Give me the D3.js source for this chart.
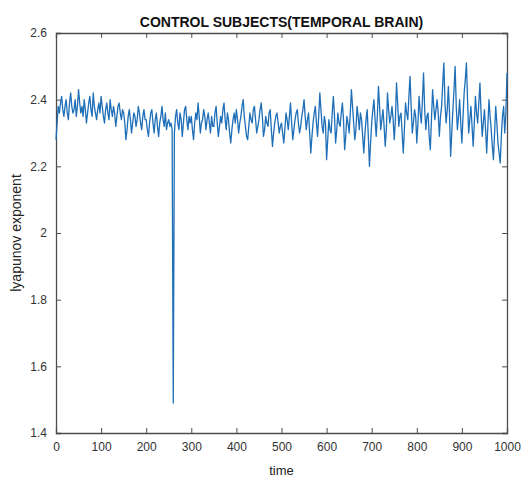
<!DOCTYPE html>
<html>
<head>
<meta charset="utf-8">
<script src="https://cdn.jsdelivr.net/npm/d3@7"></script>
<style>
  body { margin: 0; background: #fff; }
  text { font-family: "Liberation Sans", Arial, sans-serif; }
</style>
</head>
<body>
<div id="chart"></div>
<script>
let timeStep = 2.5;
let lyapunov = [
  2.28,2.33,2.38,2.36,2.39,2.41,2.37,2.35,2.38,2.40,2.36,2.34,2.39,2.42,2.38,2.36,2.37,2.40,2.35,2.38,
  2.43,2.39,2.36,2.38,2.35,2.40,2.37,2.33,2.36,2.39,2.41,2.37,2.35,2.42,2.38,2.36,2.34,2.37,2.39,2.36,
  2.41,2.38,2.35,2.33,2.37,2.39,2.36,2.34,2.40,2.37,2.35,2.38,2.36,2.32,2.35,2.38,2.39,2.36,2.34,2.37,
  2.36,2.33,2.28,2.31,2.35,2.37,2.34,2.30,2.33,2.36,2.35,2.32,2.34,2.38,2.36,2.33,2.31,2.35,2.37,2.34,
  2.34,2.31,2.29,2.33,2.36,2.37,2.33,2.30,2.34,2.36,2.32,2.29,2.33,2.35,2.38,2.34,2.32,2.36,2.31,2.33,
  2.34,2.32,2.33,2.31,1.49,2.30,2.35,2.37,2.33,2.31,2.36,2.34,2.29,2.33,2.37,2.38,2.34,2.31,2.35,2.33,
  2.35,2.31,2.28,2.33,2.36,2.34,2.39,2.35,2.30,2.33,2.34,2.37,2.35,2.31,2.34,2.36,2.33,2.30,2.35,2.32,
  2.32,2.36,2.38,2.33,2.29,2.32,2.35,2.33,2.37,2.39,2.34,2.31,2.36,2.34,2.30,2.27,2.31,2.34,2.36,2.33,
  2.37,2.34,2.30,2.33,2.35,2.38,2.40,2.35,2.32,2.29,2.28,2.32,2.36,2.34,2.33,2.37,2.38,2.34,2.30,2.32,
  2.34,2.37,2.39,2.35,2.29,2.31,2.35,2.33,2.32,2.36,2.37,2.31,2.26,2.30,2.33,2.35,2.36,2.33,2.30,2.32,
  2.33,2.30,2.27,2.31,2.36,2.34,2.31,2.35,2.39,2.33,2.28,2.31,2.34,2.36,2.37,2.33,2.30,2.32,2.35,2.37,
  2.40,2.35,2.31,2.34,2.36,2.30,2.24,2.29,2.33,2.36,2.38,2.33,2.29,2.35,2.42,2.37,2.32,2.30,2.35,2.33,
  2.22,2.28,2.34,2.31,2.30,2.36,2.41,2.35,2.27,2.31,2.36,2.33,2.32,2.36,2.39,2.34,2.25,2.29,2.35,2.33,
  2.30,2.36,2.43,2.38,2.33,2.28,2.31,2.38,2.35,2.31,2.36,2.34,2.29,2.24,2.30,2.34,2.37,2.29,2.20,2.27,
  2.33,2.37,2.40,2.34,2.29,2.35,2.44,2.38,2.31,2.34,2.37,2.32,2.26,2.31,2.42,2.37,2.33,2.35,2.38,2.34,
  2.28,2.34,2.45,2.39,2.32,2.35,2.36,2.30,2.24,2.31,2.39,2.36,2.34,2.41,2.47,2.38,2.30,2.33,2.37,2.35,
  2.27,2.33,2.41,2.36,2.33,2.40,2.48,2.37,2.31,2.35,2.36,2.29,2.25,2.34,2.43,2.38,2.34,2.37,2.40,2.36,
  2.29,2.35,2.38,2.45,2.51,2.39,2.33,2.37,2.44,2.36,2.23,2.30,2.37,2.43,2.50,2.38,2.31,2.35,2.40,2.33,
  2.27,2.35,2.42,2.46,2.51,2.40,2.30,2.34,2.38,2.32,2.26,2.33,2.41,2.36,2.33,2.39,2.45,2.36,2.29,2.33,
  2.37,2.31,2.24,2.32,2.40,2.35,2.31,2.26,2.22,2.30,2.38,2.33,2.27,2.24,2.21,2.29,2.35,2.38,2.30,2.36,
  2.48
];
let xTicks = [0, 100, 200, 300, 400, 500, 600, 700, 800, 900, 1000];
let yTicks = [1.4, 1.6, 1.8, 2, 2.2, 2.4, 2.6];
let titleText = "CONTROL SUBJECTS(TEMPORAL BRAIN)";
let xLabel = "time";
let yLabel = "lyapunov exponent";

let width = 530, height = 479;
let margin = {top: 33, right: 23, bottom: 46, left: 56};
let width_ = width - margin.left - margin.right;
let height_ = height - margin.top - margin.bottom;

let svg = d3.select("#chart").append("svg")
  .attr("width", width)
  .attr("height", height);

let x = d3.scaleLinear().domain([0, 1000]).range([0, width_]);
let y = d3.scaleLinear().domain([1.4, 2.6]).range([height_, 0]);

let canvas = svg.append("g")
  .attr("transform", "translate(" + margin.left + "," + margin.top + ")");

let axisColor = "#4d4d4d";
let tickLen = 5;

// ticks point inward, box on all four sides (matlab style)
let xAxis = canvas.append("g")
  .attr("transform", "translate(0," + height_ + ")")
  .call(d3.axisBottom(x).tickValues(xTicks).tickSize(-tickLen).tickPadding(9).tickFormat(d3.format("d")));
let xAxisTop = canvas.append("g")
  .call(d3.axisTop(x).tickValues(xTicks).tickSize(-tickLen).tickFormat(""));
let yAxis = canvas.append("g")
  .call(d3.axisLeft(y).tickValues(yTicks).tickSize(-tickLen).tickPadding(9).tickFormat(d3.format("")));
let yAxisRight = canvas.append("g")
  .attr("transform", "translate(" + width_ + ",0)")
  .call(d3.axisRight(y).tickValues(yTicks).tickSize(-tickLen).tickFormat(""));

[xAxis, xAxisTop, yAxis, yAxisRight].forEach(function(a) {
  a.select(".domain").attr("stroke", axisColor).attr("stroke-width", 1.3);
  a.selectAll(".tick line").attr("stroke", axisColor);
  a.selectAll(".tick text").attr("fill", "#333").style("font-size", "12px");
});

let line = d3.line()
  .x(function(d, i) { return x(i * timeStep); })
  .y(function(d) { return y(d); });

canvas.append("path")
  .datum(lyapunov)
  .attr("fill", "none")
  .attr("stroke", "#1f6fb8")
  .attr("stroke-width", 1.3)
  .attr("stroke-linejoin", "round")
  .attr("d", line);

svg.append("text")
  .attr("x", margin.left + width_ / 2)
  .attr("y", 27)
  .attr("text-anchor", "middle")
  .style("font-size", "14px")
  .style("font-weight", "bold")
  .attr("fill", "#111")
  .text(titleText);

svg.append("text")
  .attr("x", margin.left + width_ / 2)
  .attr("y", 475)
  .attr("text-anchor", "middle")
  .style("font-size", "13px")
  .attr("fill", "#222")
  .text(xLabel);

svg.append("text")
  .attr("transform", "translate(21," + (margin.top + height_ / 2) + ") rotate(-90)")
  .attr("text-anchor", "middle")
  .style("font-size", "14px")
  .attr("fill", "#222")
  .text(yLabel);
</script>
</body>
</html>
